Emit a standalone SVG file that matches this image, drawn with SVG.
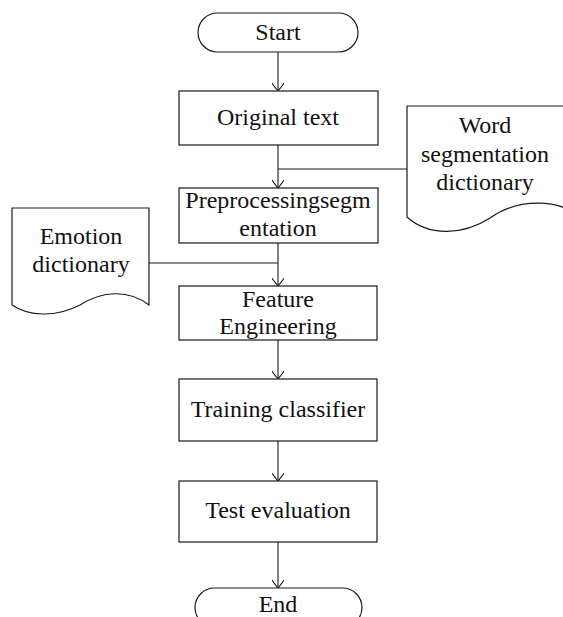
<svg xmlns="http://www.w3.org/2000/svg" width="563" height="617" viewBox="0 0 563 617">
  <style>
    .shape { fill: #ffffff; stroke: #1a1a1a; stroke-width: 1.2; }
    .edge { fill: none; stroke: #1a1a1a; stroke-width: 1.1; }
    .label { font-family: "Liberation Serif", "Times New Roman", serif; font-size: 24px; fill: #111111; text-anchor: middle; }
  </style>
  <defs>
    <marker id="arrow" markerUnits="userSpaceOnUse" markerWidth="16" markerHeight="12" refX="14" refY="6" orient="auto">
      <path d="M5,-1 L14,6 L5,13" fill="none" stroke="#1a1a1a" stroke-width="1.1"/>
    </marker>
  </defs>
  <rect width="563" height="617" fill="#ffffff"/>

  <!-- connectors -->
  <g id="connectors">
    <line class="edge" x1="278" y1="52" x2="278" y2="91" marker-end="url(#arrow)"/>
    <line class="edge" x1="278" y1="145" x2="278" y2="188" marker-end="url(#arrow)"/>
    <line class="edge" x1="407" y1="169" x2="278" y2="169"/>
    <line class="edge" x1="278" y1="243" x2="278" y2="286" marker-end="url(#arrow)"/>
    <line class="edge" x1="149" y1="263" x2="278" y2="263"/>
    <line class="edge" x1="278" y1="340" x2="278" y2="379" marker-end="url(#arrow)"/>
    <line class="edge" x1="278" y1="441" x2="278" y2="481" marker-end="url(#arrow)"/>
    <line class="edge" x1="278" y1="542" x2="278" y2="588" marker-end="url(#arrow)"/>
  </g>

  <g id="start">
    <rect class="shape" x="198" y="13" width="160" height="39" rx="19.5" ry="19.5"/>
    <text class="label" x="278" y="40">Start</text>
  </g>

  <g id="original-text">
    <rect class="shape" x="179" y="91" width="199" height="54"/>
    <text class="label" x="278" y="125">Original text</text>
  </g>

  <g id="word-dictionary">
    <path class="shape" d="M407,217 V106 H585 V222 C560,195 515,200 490,218 C462,236 428,236 407,217 Z"/>
    <text class="label" x="485" y="133">Word</text>
    <text class="label" x="485" y="162">segmentation</text>
    <text class="label" x="485" y="190">dictionary</text>
  </g>

  <g id="preprocessing">
    <rect class="shape" x="179" y="188" width="199" height="55"/>
    <text class="label" x="278" y="208">Preprocessingsegm</text>
    <text class="label" x="278" y="236">entation</text>
  </g>

  <g id="emotion-dictionary">
    <path class="shape" d="M12,305 V208 H149 V305 C128,289 102,291 80,305 C55,318 28,316 12,305 Z"/>
    <text class="label" x="81" y="244">Emotion</text>
    <text class="label" x="81" y="272">dictionary</text>
  </g>

  <g id="feature-engineering">
    <rect class="shape" x="179" y="286" width="198" height="54"/>
    <text class="label" x="278" y="307">Feature</text>
    <text class="label" x="278" y="334">Engineering</text>
  </g>

  <g id="training">
    <rect class="shape" x="179" y="379" width="198" height="62"/>
    <text class="label" x="278" y="417">Training classifier</text>
  </g>

  <g id="test">
    <rect class="shape" x="179" y="481" width="198" height="61"/>
    <text class="label" x="278" y="518">Test evaluation</text>
  </g>

  <g id="end">
    <rect class="shape" x="195" y="588" width="167" height="39" rx="19.5" ry="19.5"/>
    <text class="label" x="278" y="612">End</text>
  </g>
</svg>
